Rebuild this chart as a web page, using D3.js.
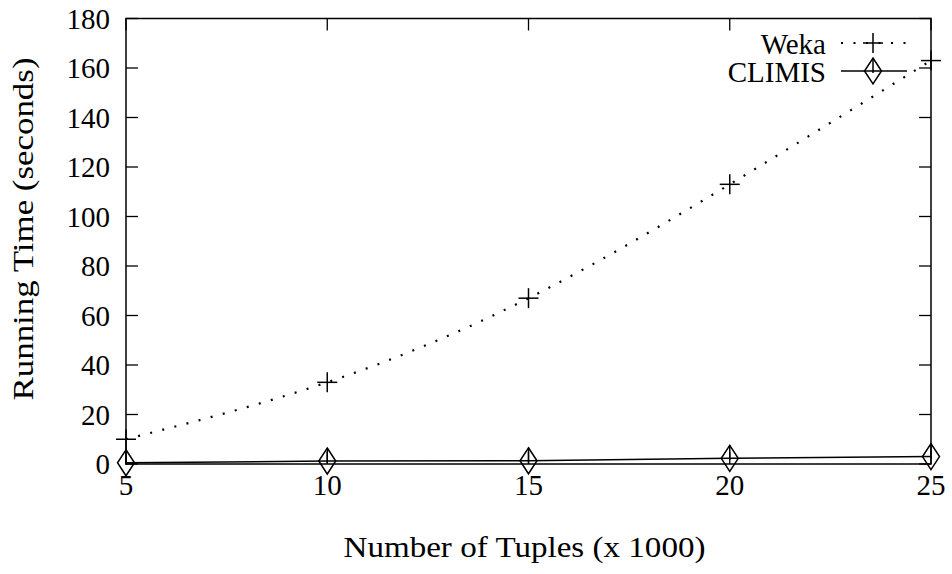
<!DOCTYPE html>
<html>
<head>
<meta charset="utf-8">
<script src="https://cdn.jsdelivr.net/npm/d3@7"></script>
<style>
  body { margin: 0; background: white; }
  text { font-family: "Liberation Serif", "DejaVu Serif", serif; fill: black; }
</style>
</head>
<body>
<div id="vis"></div>
<script>
var width = 952
var height = 574

// data
var tuples = [5, 10, 15, 20, 25]
var weka = [10, 33, 67, 113, 163]
var climis = [0.5, 1.2, 1.3, 2.3, 3.0]
var xTicks = [5, 10, 15, 20, 25]
var yTicks = [0, 20, 40, 60, 80, 100, 120, 140, 160, 180]

// plot box (gnuplot style frame)
var plotLeft = 126, plotRight = 931, plotTop = 18.5, plotBottom = 464

var svg = d3.select("#vis")
  .append("svg")
  .attr("width", width)
  .attr("height", height)
  .style("display", "block")

var x = d3.scaleLinear().domain([5, 25]).range([plotLeft, plotRight])
var y = d3.scaleLinear().domain([0, 180]).range([plotBottom, plotTop])

var fontSize = 29
var tickLen = 12

// ticks (mirrored on all sides)
var ticks = svg.append("g").attr("stroke", "black").attr("stroke-width", 1.3)
yTicks.forEach(function(t) {
  ticks.append("line").attr("x1", plotLeft).attr("x2", plotLeft + tickLen).attr("y1", y(t)).attr("y2", y(t))
  ticks.append("line").attr("x1", plotRight).attr("x2", plotRight - tickLen).attr("y1", y(t)).attr("y2", y(t))
})
xTicks.forEach(function(t) {
  ticks.append("line").attr("x1", x(t)).attr("x2", x(t)).attr("y1", plotBottom).attr("y2", plotBottom - tickLen)
  ticks.append("line").attr("x1", x(t)).attr("x2", x(t)).attr("y1", plotTop).attr("y2", plotTop + tickLen)
})

// tick labels
svg.append("g").selectAll("text")
  .data(yTicks)
  .enter().append("text")
    .attr("x", plotLeft - 16)
    .attr("y", d => y(d) + 10)
    .attr("text-anchor", "end")
    .style("font-size", fontSize + "px")
    .text(d => d)

svg.append("g").selectAll("text")
  .data(xTicks)
  .enter().append("text")
    .attr("x", d => x(d))
    .attr("y", plotBottom + 31)
    .attr("text-anchor", "middle")
    .style("font-size", fontSize + "px")
    .text(d => d)

// axis titles
svg.append("text")
  .attr("transform", "translate(33,229) rotate(-90)")
  .attr("text-anchor", "middle")
  .attr("textLength", 343)
  .attr("lengthAdjust", "spacingAndGlyphs")
  .style("font-size", fontSize + "px")
  .text("Running Time (seconds)")

svg.append("text")
  .attr("x", (plotLeft + plotRight) / 2 - 4)
  .attr("y", 557)
  .attr("text-anchor", "middle")
  .attr("textLength", 362)
  .attr("lengthAdjust", "spacingAndGlyphs")
  .style("font-size", fontSize + "px")
  .text("Number of Tuples (x 1000)")

// markers
function plus(g, cx, cy) {
  g.append("line").attr("x1", cx - 10).attr("x2", cx + 10).attr("y1", cy).attr("y2", cy)
  g.append("line").attr("x1", cx).attr("x2", cx).attr("y1", cy - 10).attr("y2", cy + 10)
}
function diamond(g, cx, cy) {
  g.append("path")
    .attr("d", "M" + cx + "," + (cy - 13) + "L" + (cx + 8.5) + "," + cy + "L" + cx + "," + (cy + 13) + "L" + (cx - 8.5) + "," + cy + "Z")
    .attr("fill", "none")
  g.append("line").attr("x1", cx).attr("x2", cx).attr("y1", cy - 13).attr("y2", cy + 2)
}

var wekaData = tuples.map((t, i) => [t, weka[i]])
var climisData = tuples.map((t, i) => [t, climis[i]])

// Weka (dotted, smoothed)
svg.append("path")
  .datum(wekaData)
  .attr("d", d3.line().x(d => x(d[0])).y(d => y(d[1])).curve(d3.curveNatural))
  .attr("fill", "none")
  .attr("stroke", "black")
  .attr("stroke-width", 2.2)
  .attr("stroke-dasharray", "2,10.5")

// CLIMIS (solid)
svg.append("path")
  .datum(climisData)
  .attr("d", d3.line().x(d => x(d[0])).y(d => y(d[1])))
  .attr("fill", "none")
  .attr("stroke", "black")
  .attr("stroke-width", 1.5)

var marks = svg.append("g").attr("stroke", "black").attr("stroke-width", 1.5)
wekaData.forEach(d => plus(marks, x(d[0]), y(d[1])))
climisData.forEach(d => diamond(marks, x(d[0]), y(d[1])))

// frame
svg.append("rect")
  .attr("x", plotLeft).attr("y", plotTop)
  .attr("width", plotRight - plotLeft).attr("height", plotBottom - plotTop)
  .attr("fill", "none")
  .attr("stroke", "black")
  .attr("stroke-width", 1.5)

// legend
var leg = svg.append("g")
var legItems = [
  {name: "Weka", ly: 43, dash: "2,10.5", w: 2.2, marker: plus},
  {name: "CLIMIS", ly: 71, dash: null, w: 1.5, marker: diamond}
]
legItems.forEach(function(it) {
  leg.append("text")
    .attr("x", 826)
    .attr("y", it.ly + 11)
    .attr("text-anchor", "end")
    .style("font-size", fontSize + "px")
    .text(it.name)
  leg.append("line")
    .attr("x1", 841).attr("x2", 907)
    .attr("y1", it.ly).attr("y2", it.ly)
    .attr("stroke", "black")
    .attr("stroke-width", it.w)
    .attr("stroke-dasharray", it.dash)
  var g = leg.append("g").attr("stroke", "black").attr("stroke-width", 1.5)
  it.marker(g, 873, it.ly)
})
</script>
</body>
</html>
